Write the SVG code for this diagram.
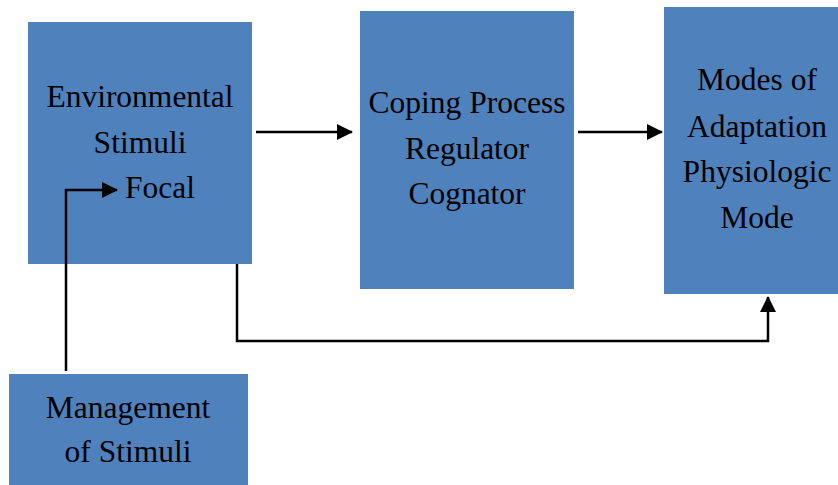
<svg xmlns="http://www.w3.org/2000/svg" width="838" height="485" viewBox="0 0 838 485">
<defs>
<style>
.box{fill:#4F81BD;}
.t{font-family:"Liberation Serif","Times New Roman",serif;font-size:31.5px;fill:#000;text-anchor:middle;}
.c{fill:none;stroke:#000;stroke-width:2.5;}
</style>
<marker id="ah2" markerWidth="16" markerHeight="16" refX="15" refY="8" orient="auto" markerUnits="userSpaceOnUse" viewBox="0 0 16 16">
<path d="M0,0 L16,8 L0,16 z" fill="#000"/>
</marker>
</defs>
<rect width="838" height="485" fill="#fff"/>
<g id="env">
<rect class="box" x="28" y="22" width="224" height="242"/>
<text class="t" x="140" y="107">Environmental</text>
<text class="t" x="140" y="153">Stimuli</text>
<text class="t" x="160" y="198">Focal</text>
</g>
<g id="coping">
<rect class="box" x="360" y="11" width="214" height="278"/>
<text class="t" x="467" y="113">Coping Process</text>
<text class="t" x="467" y="159">Regulator</text>
<text class="t" x="467" y="204">Cognator</text>
</g>
<g id="modes">
<rect class="box" x="664" y="7" width="174" height="287"/>
<text class="t" x="757" y="90">Modes of</text>
<text class="t" x="757" y="137">Adaptation</text>
<text class="t" x="757" y="182">Physiologic</text>
<text class="t" x="757" y="228">Mode</text>
</g>
<g id="mgmt">
<rect class="box" x="9" y="374" width="239" height="111"/>
<text class="t" x="128" y="418">Management</text>
<text class="t" x="128" y="462">of Stimuli</text>
</g>
<g id="connectors">
<path class="c" d="M256,132 L352,132" marker-end="url(#ah2)"/>
<path class="c" d="M578,132 L662,132" marker-end="url(#ah2)"/>
<path class="c" d="M237,264 L237,341 L768,341 L768,297" marker-end="url(#ah2)"/>
<path class="c" d="M66,371 L66,190 L117,190" marker-end="url(#ah2)"/>
</g>
</svg>
